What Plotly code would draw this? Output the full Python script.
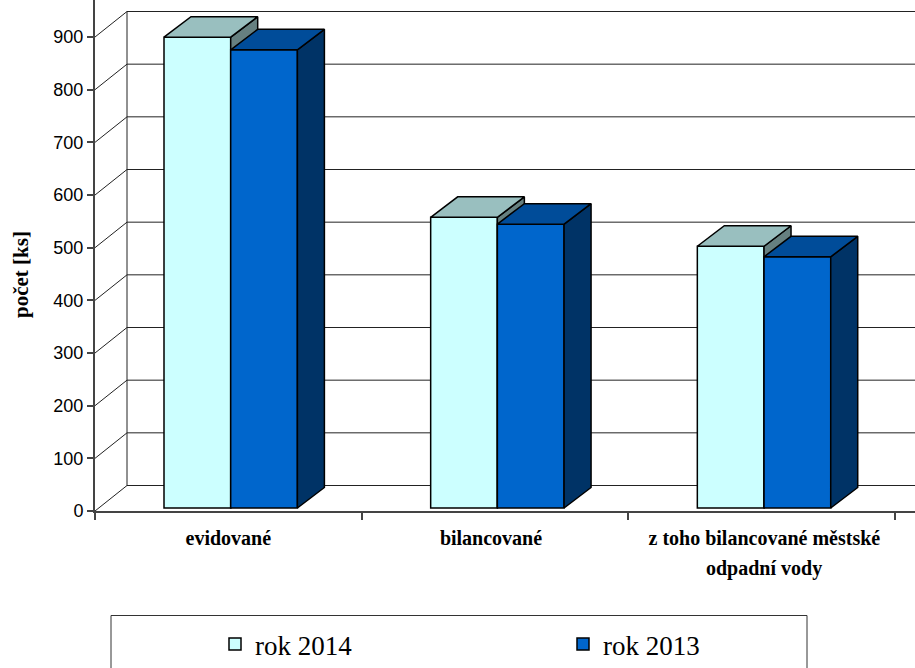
import plotly.graph_objects as go

# Source data
categories = ["evidované", "bilancované", "z toho bilancované městské"]
category_second_line = "odpadní vody"
series_names = ["rok 2014", "rok 2013"]
values_2014 = [894, 552, 497]
values_2013 = [870, 539, 477]
y_ticks = list(range(0, 1000, 100))

# Canvas and axis placement, in pixels
W, H = 915, 668
AXIS_LEFT, AXIS_BOTTOM, AXIS_TOP_900 = 95, 511, 37
PX_PER_CAT = 800 / 3
PX_PER_VAL = (AXIS_BOTTOM - AXIS_TOP_900) / 900

# Oblique projection offsets, converted into axis units
WALL_DX, WALL_DY = 32 / PX_PER_CAT, 25.5 / PX_PER_VAL
BAR_DX, BAR_DY = 27 / PX_PER_CAT, 20.5 / PX_PER_VAL
BAR_BASE = 3 / PX_PER_VAL
BAR_W = 66.7 / PX_PER_CAT
BAR_START = (164 - AXIS_LEFT) / PX_PER_CAT  # offset of the first bar inside its category

x_max = (W - AXIS_LEFT) / PX_PER_CAT
y_max = AXIS_BOTTOM / PX_PER_VAL

SERIF = "Liberation Serif"
SANS = "Liberation Sans"
EDGE = dict(color="black", width=1.5)

fig = go.Figure()

# Back wall gridlines and the slanted connectors down to the value axis
wall_x, wall_y = [], []
for v in y_ticks:
    wall_x += [0, WALL_DX, x_max, None]
    wall_y += [v, v + WALL_DY, v + WALL_DY, None]
wall_x += [WALL_DX, WALL_DX]
wall_y += [WALL_DY, 900 + WALL_DY]
fig.add_trace(go.Scatter(x=wall_x, y=wall_y, mode="lines", showlegend=False, hoverinfo="skip",
                         line=dict(color="#222222", width=1)))


def add_series(values, name, slot, axis, legend_id, front, top, side):
    """One series of oblique bars: front face as a bar, top and side as polygons."""
    offset = BAR_START + slot * BAR_W
    fig.add_trace(go.Bar(x=[0, 1, 2], y=values, base=BAR_BASE, name=name, xaxis=axis, width=BAR_W,
                         offset=offset, legend=legend_id, marker=dict(color=front, line=EDGE)))
    side_x, side_y, top_x, top_y = [], [], [], []
    for i, v in enumerate(values):
        left = i + offset
        right = left + BAR_W
        high = v + BAR_BASE
        side_x += [right, right + BAR_DX, right + BAR_DX, right, right, None]
        side_y += [BAR_BASE, BAR_BASE + BAR_DY, high + BAR_DY, high, BAR_BASE, None]
        top_x += [left, right, right + BAR_DX, left + BAR_DX, left, None]
        top_y += [high, high, high + BAR_DY, high + BAR_DY, high, None]
    for xs, ys, colour in ((side_x, side_y, side), (top_x, top_y, top)):
        fig.add_trace(go.Scatter(x=xs, y=ys, xaxis=axis, mode="lines", fill="toself", fillcolor=colour,
                                 line=EDGE, showlegend=False, hoverinfo="skip"))


add_series(values_2014, series_names[0], 0, "x2", "legend", "#CCFFFF", "#99BFBF", "#668080")
add_series(values_2013, series_names[1], 1, "x3", "legend2", "#0066CC", "#004C99", "#003366")

x_dom = [AXIS_LEFT / W, 1]
y_dom = [(H - AXIS_BOTTOM) / H, 1]
hidden_x = dict(domain=x_dom, range=[0, x_max], overlaying="x", anchor="y", visible=False)
legend_base = dict(y=1 - 620 / H, yanchor="top", xanchor="left", bgcolor="rgba(0,0,0,0)",
                   font=dict(family=SERIF, size=27, color="black"))

fig.update_layout(
    width=W, height=H, margin=dict(l=0, r=0, t=0, b=0, autoexpand=False), autosize=False,
    paper_bgcolor="white", plot_bgcolor="white", barmode="overlay",
    xaxis=dict(domain=x_dom, range=[0, x_max], showgrid=False, zeroline=False,
               showline=True, linecolor="#444444", linewidth=2,
               tickmode="array", tickvals=[0.5, 1.485, 2.51], ticktext=categories, ticks="",
               ticklabelstandoff=8,
               tickfont=dict(family=SERIF, size=20, color="black", weight="bold"),
               minor=dict(tickmode="array", tickvals=[0, 1, 2, 3], ticks="outside", ticklen=7,
                          tickcolor="#444444", tickwidth=1.5, showgrid=False)),
    xaxis2=hidden_x,
    xaxis3=hidden_x,
    yaxis=dict(domain=y_dom, range=[0, y_max], showgrid=False, zeroline=False,
               showline=True, linecolor="#444444", linewidth=2,
               tickmode="array", tickvals=y_ticks, ticks="outside", ticklen=6,
               tickcolor="#444444", tickwidth=1.5,
               tickfont=dict(family=SANS, size=18, color="black")),
    legend=dict(x=215 / W, **legend_base),
    legend2=dict(x=563 / W, **legend_base),
    shapes=[dict(type="rect", xref="paper", yref="paper", x0=111 / W, x1=807 / W,
                 y0=-0.1, y1=1 - 615.5 / H, line=dict(color="#333333", width=1), layer="below")],
    annotations=[
        dict(text="<b>" + category_second_line + "</b>", xref="x", yref="paper", x=2.51, y=1 - 568 / H,
             showarrow=False, xanchor="center", yanchor="middle",
             font=dict(family=SERIF, size=20, color="black")),
        dict(text="<b>počet [ks]</b>", xref="paper", yref="paper", x=21 / W, y=1 - 275 / H, textangle=-90,
             showarrow=False, xanchor="center", yanchor="middle",
             font=dict(family=SERIF, size=21, color="black")),
    ],
)

fig.write_html("out.html")
